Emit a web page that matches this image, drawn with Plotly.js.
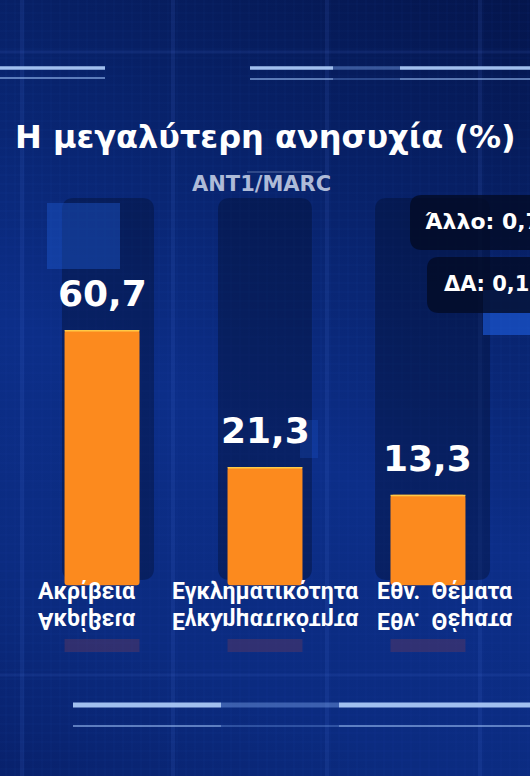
<!DOCTYPE html>
<html><head><meta charset="utf-8">
<script src="https://cdn.plot.ly/plotly-3.0.1.min.js"></script>
<style>
html,body{margin:0;padding:0;}
body{width:530px;height:776px;overflow:hidden;
background:linear-gradient(205deg,#04154c 0%,#08236d 30%,#0c2e88 55%,#0b2b80 80%,#08216c 100%);}
#chart{width:530px;height:776px;}
</style></head>
<body><div id="chart"></div>
<script>
// ---- data ----
const categories = ['Ακρίβεια', 'Εγκληματικότητα', 'Εθν.\u00a0 Θέματα'];
const values = [60.7, 21.3, 13.3];
const otherLabels = ['Άλλο', 'ΔΑ'];
const otherValues = [0.7, 0.1];
const titleText = 'Η μεγαλύτερη ανησυχία (%)';
const sourceText = 'ANT1/MARC';

// ---- style ----
const W = 530, H = 776;
const BAR_BASE = -12.7;
const BAR_WIDTH = 0.46;
const labelShift = [-16, 0, 17];
const fmt = v => v.toFixed(1).replace('.', ',');
const px = x => x / W;
const py = y => 1 - y / H;

const idx = categories.map((c, i) => i);

const shapes = [];
function rectP(x0, y0, x1, y1, fill, layer) {
  shapes.push({type: 'rect', xref: 'paper', yref: 'paper', x0: px(x0), x1: px(x1), y0: py(y1), y1: py(y0),
    fillcolor: fill, line: {width: 0}, layer: layer || 'below'});
}
function roundP(x0, y0, x1, y1, r, fill, layer) {
  const X0 = px(x0), X1 = px(x1), Y0 = py(y0), Y1 = py(y1);
  const rx = r / W, ry = r / H;
  const path = `M ${X0 + rx} ${Y0} L ${X1 - rx} ${Y0} Q ${X1} ${Y0} ${X1} ${Y0 - ry} L ${X1} ${Y1 + ry} Q ${X1} ${Y1} ${X1 - rx} ${Y1} L ${X0 + rx} ${Y1} Q ${X0} ${Y1} ${X0} ${Y1 + ry} L ${X0} ${Y0 - ry} Q ${X0} ${Y0} ${X0 + rx} ${Y0} Z`;
  shapes.push({type: 'path', xref: 'paper', yref: 'paper', path: path, fillcolor: fill, line: {width: 0}, layer: layer || 'below'});
}
function hline(x0, x1, y, w, color) {
  shapes.push({type: 'line', xref: 'paper', yref: 'paper', x0: px(x0), x1: px(x1), y0: py(y), y1: py(y),
    line: {color: color, width: w}, layer: 'below'});
}
function vline(x, w, color) {
  shapes.push({type: 'line', xref: 'paper', yref: 'paper', x0: px(x), x1: px(x), y0: 0, y1: 1,
    line: {color: color, width: w}, layer: 'below'});
}

// fine grid texture
for (let x = 6; x < W; x += 9) vline(x, 1, 'rgba(90,130,230,0.05)');
for (let y = 4; y < H; y += 9) hline(0, W, y, 1, 'rgba(90,130,230,0.05)');
// faint grid
[22, 173, 327, 480].forEach(x => vline(x, 4, 'rgba(80,120,230,0.12)'));
hline(0, W, 52, 3, 'rgba(80,120,230,0.12)');
hline(0, W, 675, 3, 'rgba(80,120,230,0.12)');

// dark panels
roundP(62, 198, 154, 580, 12, 'rgba(3,12,45,0.38)');
roundP(218, 198, 312, 580, 12, 'rgba(3,12,45,0.38)');
roundP(375, 198, 490, 580, 12, 'rgba(3,12,45,0.38)');
// lighter squares
rectP(47, 203, 120, 269, 'rgba(30,90,210,0.42)');
rectP(483, 290, 531, 335, 'rgba(30,95,225,0.6)');
rectP(300, 420, 318, 458, 'rgba(30,95,225,0.22)');

// bright lines top
const bright = 'rgba(170,200,245,0.95)', dim = 'rgba(120,160,230,0.45)', thin = 'rgba(150,185,240,0.8)';
hline(0, 105, 68, 3.5, bright); hline(250, 333, 68, 3.5, bright); hline(333, 400, 68, 3.5, dim); hline(400, 531, 68, 3.5, bright);
hline(0, 105, 78, 1.5, thin); hline(250, 333, 79, 1.5, thin); hline(333, 400, 79, 1.5, dim); hline(400, 531, 79, 1.5, thin);
// bright lines bottom
hline(73, 221, 705, 5, bright); hline(221, 339, 705, 5, dim); hline(339, 531, 705, 5, bright);
hline(73, 221, 726, 1.5, thin); hline(221, 339, 726, 1.5, dim); hline(339, 531, 726, 1.5, thin);
// thin line over source
hline(247, 322, 172, 1, 'rgba(170,190,230,0.5)');

// other boxes
roundP(410, 195, 560, 250, 12, 'rgba(2,10,36,0.78)', 'above');
roundP(427, 257, 560, 313, 12, 'rgba(2,10,36,0.78)', 'above');

// bar reflections (derived from category index)
idx.forEach(i => {
  shapes.push({type: 'rect', xref: 'x', yref: 'paper', x0: i - BAR_WIDTH / 2, x1: i + BAR_WIDTH / 2,
    y0: py(652), y1: py(639), fillcolor: 'rgba(95,55,95,0.45)', line: {width: 0}, layer: 'below'});
});

const annotations = [];
annotations.push({xref: 'paper', yref: 'paper', x: px(265), y: py(137), xanchor: 'center', yanchor: 'middle',
  text: titleText, showarrow: false, font: {family: 'DejaVu Sans', size: 32, color: '#ffffff', weight: 700}});
annotations.push({xref: 'paper', yref: 'paper', x: px(261), y: py(184), xanchor: 'center', yanchor: 'middle',
  text: sourceText, showarrow: false, font: {family: 'DejaVu Sans', size: 21, color: '#aebbd8', weight: 700}});
values.forEach((v, i) => {
  annotations.push({xref: 'x', yref: 'y', x: i, y: v, xanchor: 'center', yanchor: 'bottom', yshift: 14,
    text: fmt(v), showarrow: false, font: {family: 'DejaVu Sans', size: 36, color: '#ffffff', weight: 700}});
});
categories.forEach((c, i) => {
  annotations.push({xref: 'x', yref: 'paper', x: i, y: py(591), xanchor: 'center', yanchor: 'middle', xshift: labelShift[i],
    text: c, showarrow: false, font: {family: 'Roboto', size: 23, color: '#ffffff', weight: 700}});
});
const boxY = [221, 284], boxX = [423, 442];
otherLabels.forEach((l, i) => {
  annotations.push({xref: 'paper', yref: 'paper', x: px(boxX[i]), y: py(boxY[i]), xanchor: 'left', yanchor: 'middle',
    text: l + ': ' + fmt(otherValues[i]), showarrow: false, font: {family: 'DejaVu Sans', size: i === 0 ? 22 : 21, color: '#ffffff', weight: 700}});
});

const trace = {
  type: 'bar', x: idx, y: values.map(v => v - BAR_BASE), base: BAR_BASE, width: BAR_WIDTH,
  marker: {color: '#fc8a1e'}, hoverinfo: 'skip'
};
// top bevel highlight on each bar
const bevel = {
  type: 'bar', x: idx, y: values.map(() => 0.45), base: values.map(v => v - 0.45), width: BAR_WIDTH,
  marker: {color: '#ffc947'}, hoverinfo: 'skip'
};

const layout = {
  width: W, height: H, margin: {l: 0, r: 0, t: 0, b: 0},
  paper_bgcolor: 'rgba(0,0,0,0)', plot_bgcolor: 'rgba(0,0,0,0)',
  showlegend: false, barmode: 'overlay', barcornerradius: 3,
  xaxis: {range: [-0.626, 2.626], visible: false, fixedrange: true},
  yaxis: {range: [-67.6, 155.6], visible: false, fixedrange: true},
  shapes: shapes, annotations: annotations
};

Plotly.newPlot('chart', [trace, bevel], layout, {staticPlot: true}).then(gd => {
  // mirrored reflections of the category labels
  const groups = gd.querySelectorAll('.annotation');
  groups.forEach(g => {
    const t = g.textContent;
    if (categories.indexOf(t) < 0) return;
    const txt = g.querySelector('text');
    const bb = txt.getBBox();
    const ctm = txt.getCTM();
    const gctm = g.parentNode.getCTM();
    const bottom = (bb.y + bb.height) * ctm.d + ctm.f - gctm.f;
    const m = bottom + 1;
    const clone = g.cloneNode(true);
    clone.setAttribute('transform', `translate(0,${2 * m}) scale(1,-1)`);
    clone.setAttribute('opacity', '0.14');
    g.parentNode.insertBefore(clone, g);
  });
});
</script>
</body></html>
